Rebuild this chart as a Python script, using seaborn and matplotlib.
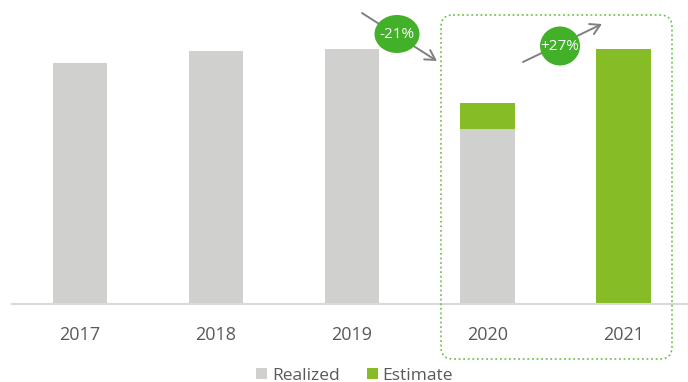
import matplotlib
matplotlib.use("Agg")
import matplotlib.pyplot as plt
import seaborn as sns
import numpy as np
from matplotlib.patches import Ellipse, FancyBboxPatch, Patch, FancyArrowPatch
from matplotlib.transforms import Affine2D

# Yearly volume index (2019 = 100)
years = ["2017", "2018", "2019", "2020", "2021"]
realized = [94.3, 99.0, 100.0, 68.5, 0.0]
estimate = [0.0, 0.0, 0.0, 10.3, 100.0]

GRAY = "#d0d0ce"
GREEN = "#86bc25"
DARK_GREEN = "#43b02a"
TEXT = "#595959"

sns.set_theme(style="white")
plt.rcParams["font.family"] = ["Open Sans", "DejaVu Sans"]

W, H = 688, 382
fig = plt.figure(figsize=(W / 100, H / 100), dpi=100)
ax = fig.add_axes([12 / W, (H - 304) / H, (W - 12) / W, 304 / H])

totals = [r + e for r, e in zip(realized, estimate)]
sns.barplot(x=years, y=totals, color=GREEN, width=0.4, saturation=1,
            linewidth=0, ax=ax)
sns.barplot(x=years, y=realized, color=GRAY, width=0.4, saturation=1,
            linewidth=0, ax=ax)

ax.set_xlim(-0.5, 4.475)
ax.set_ylim(0, 119.0)
ax.set_xlabel("")
ax.set_ylabel("")
ax.set_yticks([])
for s in ["top", "right", "left"]:
    ax.spines[s].set_visible(False)
ax.spines["bottom"].set_color("#d9d9d9")
ax.spines["bottom"].set_linewidth(1.5)
ax.tick_params(axis="x", length=0, pad=16, labelsize=13, labelcolor=TEXT)

# pixel-space overlay (origin top-left)
px = Affine2D().scale(1 / W, -1 / H).translate(0, 1) + fig.transFigure

# dotted highlight around the 2020-2021 period
box = FancyBboxPatch((441, 15), 231, 344,
                     boxstyle="round,pad=0,rounding_size=12",
                     transform=px, fill=False, edgecolor="#5cbf3a",
                     linewidth=1.1, linestyle=(0, (1.2, 1.8)),
                     clip_on=False, zorder=5)
fig.patches.append(box)

t2019, t2020, t2021 = totals[2], totals[3], totals[4]
chg1 = (t2020 / t2019 - 1) * 100
chg2 = (t2021 / t2020 - 1) * 100

arrows = [((362, 13), (437, 61)), ((523, 62), (602, 24))]
for (x0, y0), (x1, y1) in arrows:
    a = FancyArrowPatch((x0, y0), (x1, y1), transform=px,
                        arrowstyle="->,head_length=7,head_width=4",
                        color="#808080", linewidth=1.4,
                        shrinkA=0, shrinkB=0, zorder=6)
    fig.patches.append(a)

badges = [((397, 34), 45, 38, f"{chg1:.0f}%"),
          ((560, 46), 40, 39, f"+{chg2:.0f}%")]
for (cx, cy), w, h, label in badges:
    e = Ellipse((cx, cy), w, h, transform=px, facecolor=DARK_GREEN,
                edgecolor="none", zorder=7)
    fig.patches.append(e)
    fig.text(cx / W, 1 - cy / H, label, color="white", fontsize=11,
             ha="center", va="center", zorder=8)

handles = [Patch(facecolor=GRAY, edgecolor="none", label="Realized"),
           Patch(facecolor=GREEN, edgecolor="none", label="Estimate")]
fig.legend(handles=handles, loc="center", bbox_to_anchor=(354.5 / W, 1 - 375.5 / H),
           ncol=2, frameon=False, fontsize=12.5, labelcolor=TEXT,
           handlelength=0.63, handleheight=0.63, handletextpad=0.3,
           columnspacing=1.55, borderpad=0, borderaxespad=0)

fig.savefig("out.png", dpi=100)
